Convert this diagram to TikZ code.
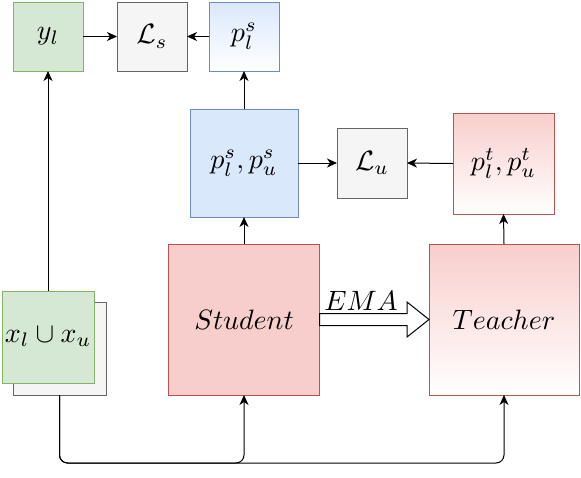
\documentclass[tikz,border=0pt]{standalone}
\usepackage{graphicx}
\usetikzlibrary{arrows.meta,calc}
\definecolor{gfill}{HTML}{D5E8D4}
\definecolor{gdraw}{HTML}{82B366}
\definecolor{kfill}{HTML}{F5F5F5}
\definecolor{kdraw}{HTML}{666666}
\definecolor{bfill}{HTML}{DAE8FC}
\definecolor{bdraw}{HTML}{6C8EBF}
\definecolor{rfill}{HTML}{F8CECC}
\definecolor{rdraw}{HTML}{B85450}
\newcommand{\bigtxt}[1]{\scalebox{2.8}{$#1$}}
\tikzset{
  box/.style={draw, line width=1pt, inner sep=0pt, outer sep=0pt},
  greenbox/.style={box, fill=gfill, draw=gdraw},
  graybox/.style={box, fill=kfill, draw=kdraw},
  bluebox/.style={box, fill=bfill, draw=bdraw},
  bluegrad/.style={box, top color=bfill, bottom color=white, draw=bdraw},
  redbox/.style={box, fill=rfill, draw=rdraw},
  redgrad/.style={box, top color=rfill, bottom color=white, draw=rdraw},
  conn/.style={line width=1pt, -{Stealth[length=10pt,width=9pt,inset=3pt]}},
}
\begin{document}
\begin{tikzpicture}[x=1pt,y=-1pt]
\useasboundingbox (0,0) rectangle (581,477);
% top row
\node[greenbox, minimum width=70, minimum height=69] (yl) at (48,36.5) {\bigtxt{y_l}};
\node[graybox, minimum width=70, minimum height=69] (Ls) at (152,36.5) {\bigtxt{\mathcal{L}_s}};
\node[bluegrad, minimum width=70, minimum height=69] (pls) at (244,36.5) {\bigtxt{p_l^s}};
% middle row
\node[bluebox, minimum width=108, minimum height=108] (ps) at (244,163) {\bigtxt{p_l^s,p_u^s}};
\node[graybox, minimum width=70, minimum height=70] (Lu) at (372,163) {\bigtxt{\mathcal{L}_u}};
\node[redgrad, minimum width=101, minimum height=101] (pt) at (503.5,163.5) {\bigtxt{p_l^t,p_u^t}};
% bottom row
\node[redbox, minimum width=151, minimum height=151] (student) at (244,319.5) {\bigtxt{Student}};
\node[redgrad, minimum width=150, minimum height=151] (teacher) at (504,319.5) {\bigtxt{Teacher}};
\node[graybox, minimum width=93, minimum height=93] (back) at (59.5,348.5) {};
\node[greenbox, minimum width=92, minimum height=92] (front) at (48,337) {\bigtxt{x_l\cup x_u}};
% connectors
\draw[conn] (front.north) -- (yl.south);
\draw[conn] (yl.east) -- (Ls.west);
\draw[conn] (pls.west) -- (Ls.east);
\draw[conn] (ps.north) -- (pls.south);
\draw[conn] (student.north) -- (ps.south);
\draw[conn] (ps.east) -- (Lu.west);
\draw[conn] (pt.west) -- (Lu.east);
\draw[conn] (teacher.north) -- (pt.south);
\draw[conn, rounded corners=8pt] (back.south) -- ++(0,68) -| (student.south);
\draw[conn, rounded corners=8pt] (back.south) -- ++(0,68) -| (teacher.south);
% EMA arrow
\coordinate (s) at (student.east);
\coordinate (t) at (teacher.west);
\draw[line width=1pt, fill=white, line join=miter]
  ($(s)+(0,-6)$) -- ($(t)+(-22,-6)$) -- ($(t)+(-22,-17.5)$) -- (t)
  -- ($(t)+(-22,17.5)$) -- ($(t)+(-22,6)$) -- ($(s)+(0,6)$) -- cycle;
\node[anchor=base, inner sep=0pt] (ema) at (361,310) {\bigtxt{EMA}};
\end{tikzpicture}
\end{document}
